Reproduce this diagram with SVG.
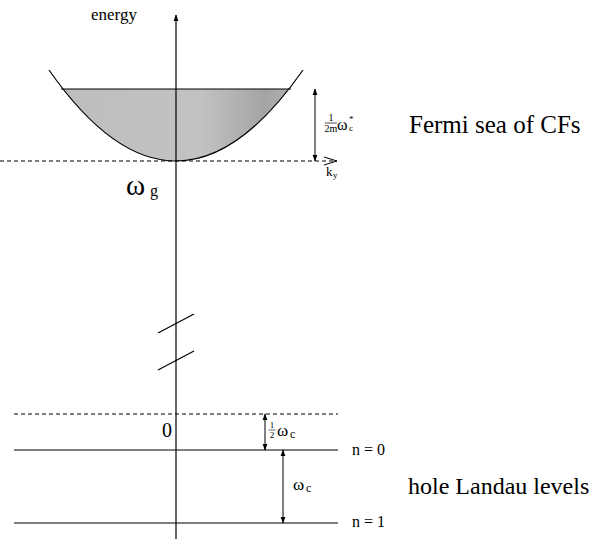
<svg xmlns="http://www.w3.org/2000/svg" width="610" height="539" viewBox="0 0 610 539">
<style>
.ln{stroke:#000;stroke-width:1.2;fill:none}
.dash{stroke:#000;stroke-width:1;fill:none;stroke-dasharray:4,3}
.t{font-family:"Liberation Serif","Times New Roman",serif;fill:#000}
</style>
<defs>
<marker id="ah" viewBox="0 0 10 10" refX="9" refY="5" markerWidth="7" markerHeight="7" orient="auto-start-reverse" markerUnits="userSpaceOnUse">
<path d="M0,1.5 L10,5 L0,8.5 z" fill="#000"/>
</marker>
<marker id="open" viewBox="0 0 14 10" refX="13" refY="5" markerWidth="14" markerHeight="10" orient="auto" markerUnits="userSpaceOnUse">
<path d="M0,1 L13,5 L0,9" fill="none" stroke="#000" stroke-width="1"/>
</marker>
<linearGradient id="g" x1="0" y1="0" x2="1" y2="0">
<stop offset="0" stop-color="#bdbdbd"/>
<stop offset="0.6" stop-color="#c2c2c2"/>
<stop offset="0.85" stop-color="#a4a4a4"/>
<stop offset="1" stop-color="#b4b4b4"/>
</linearGradient>
<clipPath id="cp"><rect x="0" y="89" width="610" height="100"/></clipPath>
</defs>
<g id="fermi-sea">
<path d="M49,70 Q176,252 303,70 Z" fill="url(#g)" clip-path="url(#cp)"/>
<path d="M49,70 Q176,252 303,70" class="ln"/>
<line x1="61" y1="89" x2="291" y2="89" class="ln"/>
</g>
<g id="connectors">
<line x1="176" y1="539" x2="176" y2="15" class="ln" marker-end="url(#ah)"/>
<line x1="0" y1="161" x2="337" y2="161" class="dash" marker-end="url(#open)"/>
<line x1="315" y1="89" x2="315" y2="161" stroke="#000" stroke-width="1" marker-start="url(#ah)" marker-end="url(#ah)"/>
<line x1="158" y1="333" x2="194" y2="314" class="ln"/>
<line x1="158" y1="370" x2="194" y2="351" class="ln"/>
<line x1="14" y1="414" x2="338" y2="414" class="dash"/>
<line x1="14" y1="450" x2="338" y2="450" class="ln"/>
<line x1="14" y1="523" x2="338" y2="523" class="ln"/>
<line x1="265" y1="414" x2="265" y2="450" stroke="#000" stroke-width="1" marker-start="url(#ah)" marker-end="url(#ah)"/>
<line x1="283" y1="450" x2="283" y2="523" stroke="#000" stroke-width="1" marker-start="url(#ah)" marker-end="url(#ah)"/>
</g>
<g id="labels">
<text class="t" x="91" y="20" font-size="17">energy</text>
<text class="t" x="126" y="195" font-size="29">ω</text>
<text class="t" x="150" y="196" font-size="16">g</text>
<text class="t" x="331" y="121" font-size="10" text-anchor="middle">1</text>
<line x1="325" y1="123" x2="337" y2="123" stroke="#000" stroke-width="0.7"/>
<text class="t" x="331" y="132" font-size="10" text-anchor="middle">2m</text>
<text class="t" x="337" y="130" font-size="16">ω</text>
<text class="t" x="349" y="122" font-size="9">*</text>
<text class="t" x="349" y="131" font-size="9">c</text>
<text class="t" x="326" y="176" font-size="13">k</text>
<text class="t" x="333" y="178" font-size="9">y</text>
<text class="t" x="409" y="133" font-size="25">Fermi sea of CFs</text>
<text class="t" x="162" y="437" font-size="20">0</text>
<text class="t" x="272" y="428" font-size="9" text-anchor="middle">1</text>
<line x1="268.5" y1="430" x2="275.5" y2="430" stroke="#000" stroke-width="0.6"/>
<text class="t" x="272" y="438" font-size="9" text-anchor="middle">2</text>
<text class="t" x="277" y="436" font-size="17">ω</text>
<text class="t" x="290" y="438" font-size="12">c</text>
<text class="t" x="293" y="490" font-size="17">ω</text>
<text class="t" x="306" y="492" font-size="12">c</text>
<text class="t" x="352" y="455" font-size="16">n = 0</text>
<text class="t" x="352" y="527" font-size="16">n = 1</text>
<text class="t" x="408" y="494" font-size="24">hole Landau levels</text>
</g>
</svg>
